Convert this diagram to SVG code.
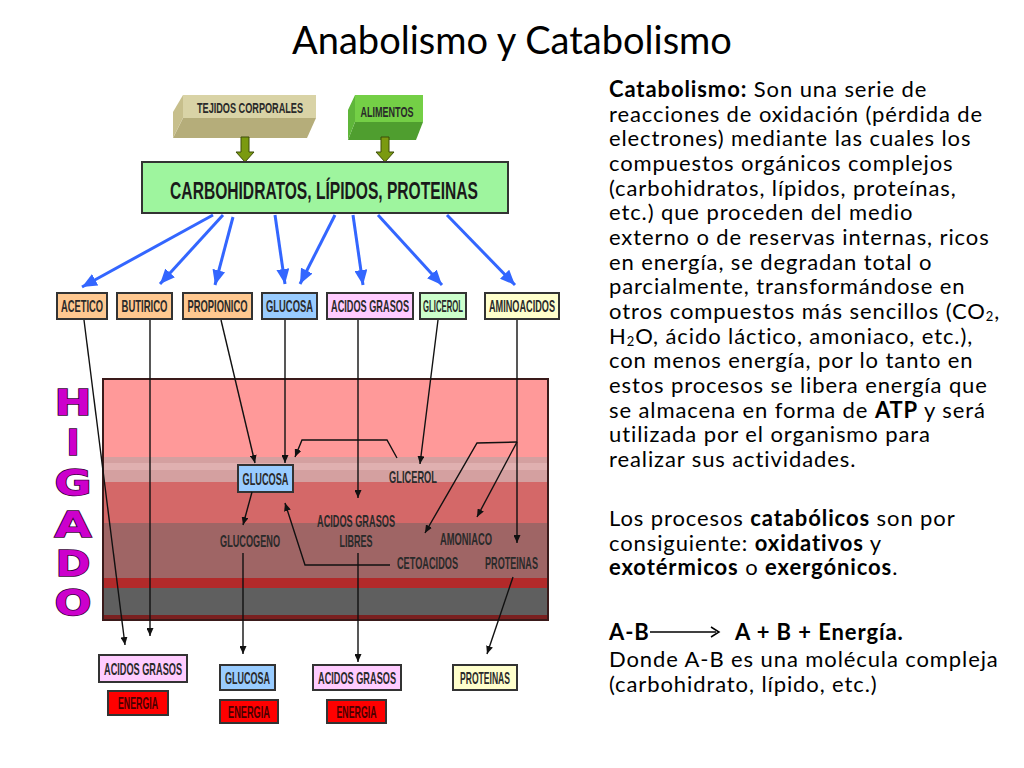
<svg xmlns="http://www.w3.org/2000/svg" width="1024" height="768" viewBox="0 0 1024 768">
<defs>
<style>
.lbl{font-family:"Liberation Sans Narrow","Liberation Sans",Arial,sans-serif;font-weight:bold;fill:#2a2a2a;text-anchor:middle;font-size:16px}
.big{font-size:24px;fill:#1a1a1a}
.top{font-size:14px}
.en{fill:#4a0000}
.box{stroke:#333;stroke-width:2}
.blue{stroke:#3366ff;stroke-width:3;fill:none;marker-end:url(#bh)}
.blk{stroke:#111;stroke-width:1.4;fill:none;marker-end:url(#kh)}
.rt{font-family:Lato,"Open Sans","Liberation Sans",sans-serif;font-size:22px;letter-spacing:0.9px;fill:#000}
.hg{font-family:"DejaVu Sans","Liberation Sans",sans-serif;font-weight:900;font-size:35px;fill:#cc00cc;stroke:#3a003a;stroke-width:1.5;paint-order:stroke;text-anchor:middle}
</style>
<marker id="bh" markerUnits="userSpaceOnUse" markerWidth="15" markerHeight="13" refX="15" refY="6.5" orient="auto"><path d="M0,0 L15,6.5 L0,13 z" fill="#3366ff"/></marker>
<marker id="kh" markerUnits="userSpaceOnUse" markerWidth="8" markerHeight="7" refX="8" refY="3.5" orient="auto"><path d="M0,0 L8,3.5 L0,7 z" fill="#111"/></marker>
</defs>
<rect width="1024" height="768" fill="#fff"/>
<text x="512" y="54" text-anchor="middle" font-family="Lato,'Open Sans','Liberation Sans',sans-serif" font-size="38" fill="#000">Anabolismo y Catabolismo</text>

<g id="higado-bg">
<rect x="103" y="379" width="445" height="78" fill="#ff9999"/>
<rect x="103" y="457" width="445" height="6" fill="#d4a0a0"/>
<rect x="103" y="463" width="445" height="7" fill="#e0b0b0"/>
<rect x="103" y="470" width="445" height="12" fill="#d4a0a0"/>
<rect x="103" y="482" width="445" height="41" fill="#d46868"/>
<rect x="103" y="523" width="445" height="55" fill="#9f6565"/>
<rect x="103" y="578" width="445" height="10" fill="#b22a2a"/>
<rect x="103" y="588" width="445" height="27" fill="#5f5f5f"/>
<rect x="103" y="615" width="445" height="5" fill="#7a2020"/>
<rect x="103" y="379" width="445" height="241" fill="none" stroke="#3a1a1a" stroke-width="2"/>
</g>

<g id="higado-label">
<text class="hg" x="73" y="415" textLength="37" lengthAdjust="spacingAndGlyphs">H</text>
<text class="hg" x="73" y="455">I</text>
<text class="hg" x="73" y="495" textLength="37" lengthAdjust="spacingAndGlyphs">G</text>
<text class="hg" x="73" y="537" textLength="37" lengthAdjust="spacingAndGlyphs">A</text>
<text class="hg" x="73" y="576" textLength="35" lengthAdjust="spacingAndGlyphs">D</text>
<text class="hg" x="73" y="615" textLength="37" lengthAdjust="spacingAndGlyphs">O</text>
</g>

<g id="tejidos">
<polygon points="183,95 316,95 316,118 183,118" fill="#d9d3a6"/>
<polygon points="183,118 316,118 307,138 173,138" fill="#b5ad7a"/>
<polygon points="183,95 173,112 173,138 183,118" fill="#c7bf8c"/>
<text class="lbl top" transform="translate(250,113) scale(0.6,1)" textLength="176.7" lengthAdjust="spacingAndGlyphs">TEJIDOS CORPORALES</text>
</g>
<g id="alimentos">
<polygon points="355,95 423,95 423,122 355,122" fill="#74cf46"/>
<polygon points="355,122 423,122 416,140 348,140" fill="#4f9e2f"/>
<polygon points="355,95 348,110 348,140 355,122" fill="#5fb63a"/>
<text class="lbl top" transform="translate(387,117) scale(0.6,1)" textLength="88.3" lengthAdjust="spacingAndGlyphs">ALIMENTOS</text>
</g>

<g id="green-arrows" fill="#7a9a10" stroke="#3d4d08" stroke-width="1">
<path d="M241,137 h8 v15 h5 l-9,10 l-9,-10 h5 z"/>
<path d="M381,137 h8 v15 h5 l-9,10 l-9,-10 h5 z"/>
</g>

<g id="nutrientes">
<rect class="box" x="142" y="162" width="366" height="51" fill="#9ef59e"/>
<text class="lbl big" transform="translate(324,199) scale(0.6,1)" textLength="513" lengthAdjust="spacingAndGlyphs">CARBOHIDRATOS, LÍPIDOS, PROTEINAS</text>
</g>

<g id="row">
<g id="acetico"><rect class="box" x="57" y="293" width="50" height="26" fill="#ffc890"/><text class="lbl" transform="translate(82,312) scale(0.6,1)" textLength="70" lengthAdjust="spacingAndGlyphs">ACETICO</text></g>
<g id="butirico"><rect class="box" x="117" y="293" width="55" height="26" fill="#ffc890"/><text class="lbl" transform="translate(144.5,312) scale(0.6,1)" textLength="76.7" lengthAdjust="spacingAndGlyphs">BUTIRICO</text></g>
<g id="propionico"><rect class="box" x="183" y="293" width="69" height="26" fill="#ffc890"/><text class="lbl" transform="translate(217.5,312) scale(0.6,1)" textLength="100" lengthAdjust="spacingAndGlyphs">PROPIONICO</text></g>
<g id="glucosa1"><rect class="box" x="262" y="293" width="55" height="26" fill="#99ccff"/><text class="lbl" transform="translate(289.5,312) scale(0.6,1)" textLength="78.3" lengthAdjust="spacingAndGlyphs">GLUCOSA</text></g>
<g id="acidos1"><rect class="box" x="327" y="293" width="86" height="26" fill="#ffccff"/><text class="lbl" transform="translate(370,312) scale(0.6,1)" textLength="130" lengthAdjust="spacingAndGlyphs">ACIDOS GRASOS</text></g>
<g id="glicerol1"><rect class="box" x="420" y="293" width="46" height="26" fill="#ccffcc"/><text class="lbl" transform="translate(443,312) scale(0.6,1)" textLength="66.7" lengthAdjust="spacingAndGlyphs">GLICEROL</text></g>
<g id="aminoacidos"><rect class="box" x="485" y="293" width="74" height="26" fill="#ffffcc"/><text class="lbl" transform="translate(522,312) scale(0.6,1)" textLength="110" lengthAdjust="spacingAndGlyphs">AMINOACIDOS</text></g>
</g>

<g id="liver-nodes">
<g id="glucosa2"><rect class="box" x="238" y="465" width="55" height="27" fill="#99ccff"/><text class="lbl" transform="translate(265.5,484.5) scale(0.6,1)" textLength="76.7" lengthAdjust="spacingAndGlyphs">GLUCOSA</text></g>
<g id="glicerol2"><text class="lbl" transform="translate(413,483) scale(0.6,1)" textLength="80" lengthAdjust="spacingAndGlyphs">GLICEROL</text></g>
<g id="acidos-libres"><text class="lbl" transform="translate(356,527) scale(0.6,1)" textLength="130" lengthAdjust="spacingAndGlyphs">ACIDOS GRASOS</text><text class="lbl" transform="translate(356,547) scale(0.6,1)" textLength="55" lengthAdjust="spacingAndGlyphs">LIBRES</text></g>
<g id="glucogeno"><text class="lbl" transform="translate(250,547) scale(0.6,1)" textLength="100" lengthAdjust="spacingAndGlyphs">GLUCOGENO</text></g>
<g id="amoniaco"><text class="lbl" transform="translate(466,545) scale(0.6,1)" textLength="86.7" lengthAdjust="spacingAndGlyphs">AMONIACO</text></g>
<g id="cetoacidos"><text class="lbl" transform="translate(427.5,569) scale(0.6,1)" textLength="101.7" lengthAdjust="spacingAndGlyphs">CETOACIDOS</text></g>
<g id="proteinas2"><text class="lbl" transform="translate(511.5,569) scale(0.6,1)" textLength="88.3" lengthAdjust="spacingAndGlyphs">PROTEINAS</text></g>
</g>

<g id="bottom">
<g id="acidos3"><rect class="box" x="99" y="655" width="88" height="27" fill="#ffccff"/><text class="lbl" transform="translate(143,674.5) scale(0.6,1)" textLength="130" lengthAdjust="spacingAndGlyphs">ACIDOS GRASOS</text></g>
<g id="energia1"><rect class="box" x="108" y="691" width="60" height="24" fill="#ff0000"/><text class="lbl en" transform="translate(138,709) scale(0.6,1)" textLength="66.7" lengthAdjust="spacingAndGlyphs">ENERGIA</text></g>
<g id="glucosa3"><rect class="box" x="220" y="665" width="55" height="25" fill="#99ccff"/><text class="lbl" transform="translate(247.5,683.5) scale(0.6,1)" textLength="75" lengthAdjust="spacingAndGlyphs">GLUCOSA</text></g>
<g id="energia2"><rect class="box" x="220" y="700" width="58" height="23" fill="#ff0000"/><text class="lbl en" transform="translate(249,717.5) scale(0.6,1)" textLength="70" lengthAdjust="spacingAndGlyphs">ENERGIA</text></g>
<g id="acidos4"><rect class="box" x="313" y="665" width="88" height="25" fill="#ffccff"/><text class="lbl" transform="translate(357,683.5) scale(0.6,1)" textLength="130" lengthAdjust="spacingAndGlyphs">ACIDOS GRASOS</text></g>
<g id="energia3"><rect class="box" x="327" y="700" width="59" height="23" fill="#ff0000"/><text class="lbl en" transform="translate(356.5,717.5) scale(0.6,1)" textLength="66.7" lengthAdjust="spacingAndGlyphs">ENERGIA</text></g>
<g id="proteinas3"><rect class="box" x="453" y="665" width="64" height="25" fill="#ffffcc"/><text class="lbl" transform="translate(485,683.5) scale(0.6,1)" textLength="83.3" lengthAdjust="spacingAndGlyphs">PROTEINAS</text></g>
</g>

<g id="connectors">
<path class="blue" stroke-width="2.5" d="M213,215 L82,287"/>
<path class="blue" d="M223,215 L160,284"/>
<path class="blue" stroke-width="2" d="M233,217 L215,285"/>
<path class="blue" d="M275,215 L285,284"/>
<path class="blue" d="M335,215 L300,284"/>
<path class="blue" d="M353,215 L363,285"/>
<path class="blue" d="M378,215 L442,285"/>
<path class="blue" d="M447,215 L515,285"/>

<path class="blk" d="M84,320 L125,645"/>
<path class="blk" d="M150,320 L150,636"/>
<path class="blk" d="M221,320 L255,463"/>
<path class="blk" d="M285,320 L285,463"/>
<path class="blk" d="M358,320 L358,498"/>
<path class="blk" d="M438,320 L420,464"/>
<path class="blk" d="M517,320 L517,543"/>
<path class="blk" d="M517,442 L477,443 L425,533"/>
<path class="blk" d="M517,442 L477,517"/>
<path class="blk" d="M397,458 L387,440 L302,440 L295,457"/>
<path class="blk" d="M390,565 L305,565 L285,503"/>
<path class="blk" d="M252,492 L243,525"/>
<path class="blk" d="M243,553 L243,654"/>
<path class="blk" d="M358,553 L358,662"/>
<path class="blk" d="M513,577 L487,654"/>
</g>

<g id="texto">
<text class="rt" x="609" y="97"><tspan font-weight="bold">Catabolismo:</tspan> Son una serie de</text>
<text class="rt" x="609" y="121.6">reacciones de oxidación (pérdida de</text>
<text class="rt" x="609" y="146.3">electrones) mediante las cuales los</text>
<text class="rt" x="609" y="171">compuestos orgánicos complejos</text>
<text class="rt" x="609" y="195.6">(carbohidratos, lípidos, proteínas,</text>
<text class="rt" x="609" y="220.3">etc.) que proceden del medio</text>
<text class="rt" x="609" y="244.9">externo o de reservas internas, ricos</text>
<text class="rt" x="609" y="269.6">en energía, se degradan total o</text>
<text class="rt" x="609" y="294.2">parcialmente, transformándose en</text>
<text class="rt" x="609" y="318.9">otros compuestos más sencillos (CO<tspan font-size="13" dy="2">2</tspan><tspan dy="-2">,</tspan></text>
<text class="rt" x="609" y="343.5">H<tspan font-size="13" dy="2">2</tspan><tspan dy="-2">O, ácido láctico, amoniaco, etc.),</tspan></text>
<text class="rt" x="609" y="368.2">con menos energía, por lo tanto en</text>
<text class="rt" x="609" y="392.8">estos procesos se libera energía que</text>
<text class="rt" x="609" y="417.5">se almacena en forma de <tspan font-weight="bold">ATP</tspan> y será</text>
<text class="rt" x="609" y="442.1">utilizada por el organismo para</text>
<text class="rt" x="609" y="466.8">realizar sus actividades.</text>
<text class="rt" x="609" y="526">Los procesos <tspan font-weight="bold">catabólicos</tspan> son por</text>
<text class="rt" x="609" y="550.6">consiguiente: <tspan font-weight="bold">oxidativos</tspan> y</text>
<text class="rt" x="609" y="575.2"><tspan font-weight="bold">exotérmicos</tspan>  o <tspan font-weight="bold">exergónicos</tspan>.</text>
<text class="rt" x="609" y="640" font-weight="bold">A-B</text>
<line x1="650" y1="632" x2="716" y2="632" stroke="#000" stroke-width="1.5"/>
<path d="M711,627 L719,632 L711,637" fill="none" stroke="#000" stroke-width="1.5"/>
<text class="rt" x="735" y="640" font-weight="bold">A + B + Energía.</text>
<text class="rt" x="609" y="667">Donde A-B es una molécula compleja</text>
<text class="rt" x="609" y="692">(carbohidrato, lípido, etc.)</text>
</g>
</svg>
